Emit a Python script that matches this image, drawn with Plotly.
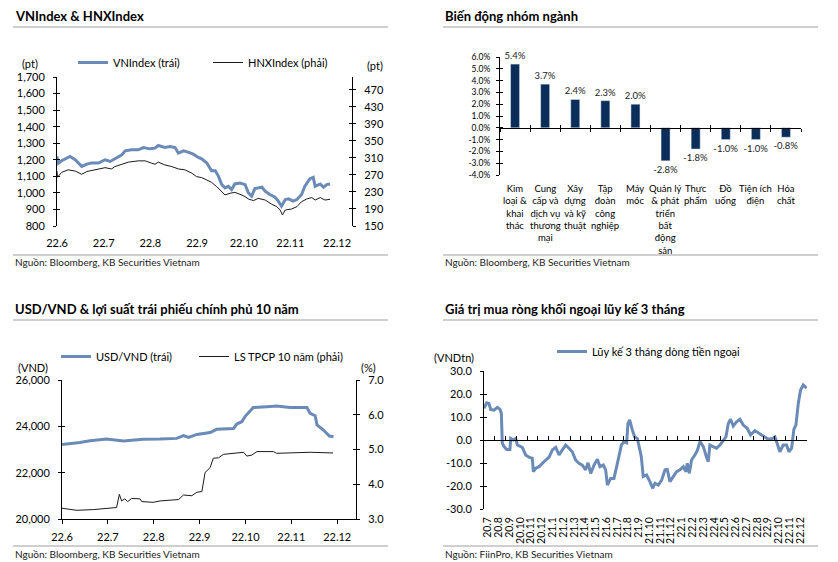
import plotly.graph_objects as go

W, H = 838, 562
FONT = "Lato, 'Open Sans', sans-serif"
BLUE = "#6A8BB7"
NAVY = "#0B2D59"
BLACK = "#1A1A1A"
GRAYRULE = "#BFBFBF"

# ---------------- Panel 1: VNIndex & HNXIndex ----------------
month_labels_22 = ["22.6", "22.7", "22.8", "22.9", "22.10", "22.11", "22.12"]
vn_x = [0, 0.03, 0.10, 0.28, 0.39, 0.53, 0.64, 0.74, 0.89, 1.03,
        1.14, 1.28, 1.39, 1.46, 1.60, 1.74, 1.85, 1.99, 2.10, 2.17,
        2.31, 2.42, 2.53, 2.60, 2.71, 2.81, 2.92, 3.03, 3.10, 3.21,
        3.31, 3.39, 3.46, 3.53, 3.60, 3.67, 3.74, 3.81, 3.92, 4.03,
        4.10, 4.17, 4.24, 4.39, 4.46, 4.56, 4.67, 4.74, 4.81, 4.89,
        4.96, 5.06, 5.14, 5.24, 5.31, 5.42, 5.49, 5.53, 5.64, 5.71,
        5.78, 5.85]
vn_y = [1220, 1180, 1194, 1220, 1200, 1160, 1174, 1180, 1180, 1200,
        1190, 1210, 1230, 1254, 1260, 1260, 1274, 1266, 1270, 1286,
        1274, 1280, 1274, 1240, 1254, 1246, 1234, 1214, 1206, 1180,
        1134, 1134, 1100, 1050, 1030, 1040, 1020, 1054, 1060, 1050,
        1000, 980, 1026, 1034, 1010, 990, 974, 950, 920, 960,
        964, 950, 960, 990, 1040, 1086, 1094, 1040, 1054, 1034,
        1050, 1054]
hnx_x = [0, 0.01, 0.10, 0.24, 0.39, 0.53, 0.64, 0.81, 1.03, 1.17,
         1.24, 1.39, 1.53, 1.74, 1.89, 2.03, 2.10, 2.17, 2.31, 2.46,
         2.60, 2.74, 2.89, 2.99, 3.10, 3.21, 3.31, 3.42, 3.53, 3.60,
         3.71, 3.81, 3.92, 4.03, 4.10, 4.21, 4.31, 4.46, 4.60, 4.71,
         4.78, 4.83, 4.89, 5.03, 5.14, 5.24, 5.35, 5.46, 5.53, 5.64,
         5.74, 5.85]
hnx_y = [279, 264.5, 276, 282, 279, 271.5, 278, 282, 287, 284,
         289.6, 295, 300, 303, 303, 297.5, 295, 300, 293.5, 289.6,
         284, 282, 274, 266, 263.7, 258, 252.7, 242.5, 229, 223,
         227, 229, 224.5, 219, 213.5, 209.5, 215, 211, 201, 195.5,
         187.6, 176, 187.6, 190, 195.5, 207, 213.5, 216.7, 211, 216.7,
         211, 212.7]
p1_left_ticks = [800, 900, 1000, 1100, 1200, 1300, 1400, 1500, 1600, 1700]
p1_right_ticks = [150, 190, 230, 270, 310, 350, 390, 430, 470]

# ---------------- Panel 2: sector performance ----------------
sectors = ["Kim<br>loại &<br>khai<br>thác",
           "Cung<br>cấp và<br>dịch vụ<br>thương<br>mại",
           "Xây<br>dựng<br>và kỹ<br>thuật",
           "Tập<br>đoàn<br>công<br>nghiệp",
           "Máy<br>móc",
           "Quản lý<br>& phát<br>triển<br>bất<br>động<br>sản",
           "Thực<br>phẩm",
           "Đồ<br>uống",
           "Tiện ích<br>điện",
           "Hóa<br>chất"]
sector_change = [5.4, 3.7, 2.4, 2.3, 2.0, -2.8, -1.8, -1.0, -1.0, -0.8]
p2_ticks = [-4, -3, -2, -1, 0, 1, 2, 3, 4, 5, 6]

# ---------------- Panel 3: USD/VND & 10y bond yield ----------------
usd_x = [0, 0.39, 0.61, 0.97, 1.34, 1.77, 2.14, 2.50, 2.65, 2.76,
         2.94, 3.23, 3.37, 3.74, 3.81, 3.92, 3.99, 4.10, 4.17, 4.47,
         4.68, 4.97, 5.34, 5.41, 5.52, 5.56, 5.70, 5.83, 5.92]
usd_y = [23220, 23300, 23380, 23450, 23370, 23440, 23450, 23480, 23600, 23520,
         23650, 23730, 23870, 23910, 24100, 24200, 24420, 24660, 24810, 24850,
         24880, 24810, 24810, 24560, 24460, 24060, 23840, 23580, 23550]
yld_x = [0, 0.32, 0.68, 1.19, 1.25, 1.30, 1.37, 1.43, 1.52, 1.70,
         1.74, 1.99, 2.14, 2.54, 2.65, 2.83, 2.94, 3.05, 3.12, 3.23,
         3.30, 3.41, 3.52, 3.74, 3.96, 4.03, 4.14, 4.25, 4.61, 4.68,
         5.05, 5.41, 5.91]
yld_y = [3.31, 3.25, 3.27, 3.33, 3.71, 3.52, 3.58, 3.50, 3.59, 3.58,
         3.50, 3.48, 3.52, 3.56, 3.69, 3.67, 3.77, 3.79, 4.34, 4.48,
         4.75, 4.76, 4.86, 4.89, 4.92, 4.81, 4.84, 4.94, 4.94, 4.89,
         4.90, 4.92, 4.90]
p3_left_ticks = [20000, 22000, 24000, 26000]
p3_right_ticks = [3, 4, 5, 6, 7]

# ---------------- Panel 4: foreign net buying (3M cumulative) ----------------
flow_months = ["20.7", "20.8", "20.9", "20.10", "20.11", "20.12",
               "21.1", "21.2", "21.3", "21.4", "21.5", "21.6", "21.7", "21.8",
               "21.9", "21.10", "21.11", "21.12", "22.1", "22.2", "22.3",
               "22.4", "22.5", "22.6", "22.7", "22.8", "22.9", "22.10",
               "22.11", "22.12"]
flow_x = [0, 0.25, 0.46, 0.62, 0.93, 1.24, 1.49, 1.61, 1.70, 1.86,
          2.11, 2.41, 2.48, 2.72, 2.94, 3.10, 3.56, 3.87, 4.18, 4.49,
          4.58, 4.80, 5.11, 5.42, 5.73, 6.04, 6.35, 6.66, 6.97, 7.28,
          7.59, 7.89, 8.20, 8.51, 8.82, 9.13, 9.44, 9.66, 9.91, 10.22,
          10.53, 10.77, 11.08, 11.30, 11.46, 11.76, 12.07, 12.32, 12.54, 12.76,
          13.00, 13.25, 13.37, 13.53, 13.78, 13.99, 14.24, 14.40, 14.61,
          14.79, 15.10, 15.41, 15.66, 15.88, 16.19, 16.50, 16.81, 17.02, 17.27,
          17.58, 17.89, 18.20, 18.51, 18.76, 18.88, 19.07, 19.28, 19.59, 19.81,
          20.06, 20.37, 20.67, 20.83, 20.98, 21.29, 21.60, 21.91, 22.22, 22.47,
          22.69, 22.90, 23.15, 23.46, 23.77, 24.08, 24.45, 24.76, 25.16, 25.56,
          25.94, 26.40, 26.80, 27.02, 27.24, 27.48, 27.79, 28.10, 28.32, 28.57,
          28.78, 28.97, 29.19, 29.40, 29.65, 29.96]
flow_y = [13.8, 16.2, 15.9, 13.3, 13.0, 14.2, 13.3, 11.6, -1.4, -2.9,
          -4.1, -4.1, 0.7, 0.0, 0.7, -2.2, -3.2, -6.5, -7.5, -8.0,
          -13.8, -12.3, -11.6, -9.9, -8.7, -7.5, -4.3, -3.2, -6.5, -4.3,
          -2.2, -3.6, -5.1, -8.7, -10.1, -10.9, -13.0, -9.9, -14.5, -10.9,
          -8.4, -11.6, -10.9, -13.0, -19.6, -16.7, -16.7, -11.6, -7.2, -2.2,
          -0.7, -1.2, 7.2, 8.7, 4.3, 1.4, 0.7, -2.9, -7.2,
          -15.9, -15.2, -18.1, -21.0, -18.8, -19.6, -17.4, -13.0, -12.8, -18.1,
          -15.9, -13.8, -13.0, -11.6, -13.8, -10.1, -14.5, -8.7, -6.5, -4.6,
          -0.7, -2.9, -7.5, -9.4, -2.2, -2.9, -3.6, -2.2, 0.0, 1.4,
          7.2, 9.0, 6.1, 7.9, 9.0, 6.5, 5.1, 2.2, 4.1, 3.0,
          1.7, 0.3, 0.7, 1.4, -1.4, -5.1, -2.2, -2.2, -5.1, -3.6,
          4.6, 6.5, 15.9, 21.7, 23.9, 22.5]
p4_ticks = [-30, -20, -10, 0, 10, 20, 30]


# ---------------- helpers (layout geometry only) ----------------
def fx(p):
    return p / W


def fy(p):
    return 1 - p / H


def yax(domain, rng, tickvals, ticktext, anchor, side="left", overlay=None,
        inside=False, size=11, standoff=6):
    d = dict(domain=domain, range=rng, tickvals=tickvals, anchor=anchor, side=side,
             showgrid=False, zeroline=False, fixedrange=True, automargin=False,
             tickfont=dict(family=FONT, size=size, color="#000"))
    if inside:
        d.update(ticks="inside", ticklen=3, tickcolor="#000", tickwidth=1,
                 showline=False, showticklabels=False)
    else:
        d.update(ticktext=ticktext, ticks="outside", ticklen=3, tickcolor="#000",
                 tickwidth=1, showline=True, linecolor="#000", linewidth=1,
                 ticklabelstandoff=standoff)
    if overlay:
        d["overlaying"] = overlay
    return d


fig = go.Figure()

# Panel 1 traces
fig.add_trace(go.Scatter(x=vn_x, y=vn_y, mode="lines", name="VNIndex (trái)",
                         line=dict(color=BLUE, width=3), xaxis="x", yaxis="y",
                         legend="legend"))
fig.add_trace(go.Scatter(x=hnx_x, y=hnx_y, mode="lines", name="HNXIndex (phải)",
                         line=dict(color=BLACK, width=1), xaxis="x", yaxis="y2",
                         legend="legend4"))
# Panel 2 bars
fig.add_trace(go.Bar(x=sectors, y=sector_change, marker_color=NAVY, width=0.3,
                     text=[f"{v:.1f}%" for v in sector_change], textposition="outside",
                     constraintext="none",
                     textfont=dict(family=FONT, size=9.5, color="#222"),
                     cliponaxis=False, showlegend=False, xaxis="x2", yaxis="y5"))
# Panel 3 traces
fig.add_trace(go.Scatter(x=usd_x, y=usd_y, mode="lines", name="USD/VND (trái)",
                         line=dict(color=BLUE, width=3), xaxis="x4", yaxis="y7",
                         legend="legend2"))
fig.add_trace(go.Scatter(x=yld_x, y=yld_y, mode="lines", name="LS TPCP 10 năm (phải)",
                         line=dict(color=BLACK, width=1), xaxis="x4", yaxis="y8",
                         legend="legend5"))
# Panel 4 trace
fig.add_trace(go.Scatter(x=flow_x, y=flow_y, mode="lines",
                         name="Lũy kế 3 tháng dòng tiền ngoại",
                         line=dict(color=BLUE, width=3), xaxis="x5", yaxis="y11",
                         legend="legend3"))
# empty helper traces so overlay tick axes are drawn
for xa, ya in [("x", "y3"), ("x", "y4"), ("x3", "y5"), ("x2", "y6"),
               ("x4", "y9"), ("x4", "y10"), ("x6", "y11"), ("x5", "y12")]:
    fig.add_trace(go.Scatter(x=[None], y=[None], mode="lines", xaxis=xa, yaxis=ya,
                             showlegend=False, hoverinfo="skip"))

# ----- geometry -----
p1_dom_x = [fx(57), fx(352)]
p1_dom_y = [fy(226), fy(77)]
p2_dom_x = [fx(500), fx(801)]
p2_dom_y = [fy(175), fy(57)]
p3_dom_x = [fx(62), fx(356)]
p3_dom_y = [fy(519), fy(380)]
p4_dom_x = [fx(484), fx(807)]
p4_dom_y = [fy(509), fy(371)]

p2_range = [-4, 6]
p2_zero = p2_dom_y[0] + (0 - p2_range[0]) / (p2_range[1] - p2_range[0]) * (p2_dom_y[1] - p2_dom_y[0])
p4_range = [-30, 30]
p4_zero = p4_dom_y[0] + (0 - p4_range[0]) / (p4_range[1] - p4_range[0]) * (p4_dom_y[1] - p4_dom_y[0])

month_pos = list(range(len(month_labels_22)))
flow_pos = list(range(len(flow_months)))

legend_common = dict(orientation="h", xanchor="left", yanchor="top",
                     font=dict(family=FONT, size=11, color="#000"), itemwidth=30,
                     bgcolor="rgba(0,0,0,0)", itemclick=False, itemdoubleclick=False)

layout = dict(
    width=W, height=H, margin=dict(l=0, r=0, t=0, b=0, pad=0, autoexpand=False),
    autosize=False,
    paper_bgcolor="white", plot_bgcolor="rgba(0,0,0,0)",
    font=dict(family=FONT, size=11, color="#000"),
    hovermode=False, bargap=0.7,
    # Panel 1
    xaxis=dict(domain=p1_dom_x, range=[0, 6.32], tickvals=month_pos,
               ticktext=month_labels_22, anchor="y", showline=False, ticks="",
               showgrid=False, zeroline=False, ticklabelstandoff=9, automargin=False,
               tickfont=dict(family=FONT, size=11, color="#000")),
    yaxis=yax(p1_dom_y, [800, 1700], p1_left_ticks,
              [f"{v:,}" for v in p1_left_ticks], "x"),
    yaxis2=yax(p1_dom_y, [150, 500], p1_right_ticks,
               [str(v) for v in p1_right_ticks], "x", side="right", overlay="y"),
    yaxis3=yax(p1_dom_y, [800, 1700], p1_left_ticks, None, "x", overlay="y", inside=True),
    yaxis4=yax(p1_dom_y, [150, 500], p1_right_ticks, None, "x", side="right",
               overlay="y", inside=True),
    # Panel 2
    xaxis2=dict(domain=p2_dom_x, type="category", range=[-0.5, len(sectors) - 0.5],
                anchor="free", position=p2_zero, showline=True, linecolor="#000",
                linewidth=1, ticks="outside", tickson="boundaries", ticklen=3,
                tickcolor="#000", showticklabels=False, showgrid=False, zeroline=False,
                automargin=False),
    xaxis3=dict(domain=p2_dom_x, range=[-0.5, len(sectors) - 0.5],
                tickvals=[i - 0.5 for i in range(len(sectors) + 1)],
                anchor="free", position=p2_zero, overlaying="x2", showline=False,
                ticks="inside", ticklen=3, tickcolor="#000", showticklabels=False,
                showgrid=False, zeroline=False, automargin=False),
    yaxis5=yax(p2_dom_y, p2_range, p2_ticks, [f"{v:.1f}%" for v in p2_ticks], "x2",
               size=8.5, standoff=4),
    yaxis6=yax(p2_dom_y, p2_range, p2_ticks, None, "x2", overlay="y5", inside=True),
    # Panel 3
    xaxis4=dict(domain=p3_dom_x, range=[0, 6.41], tickvals=month_pos,
                ticktext=month_labels_22, anchor="y7", showline=True, linecolor="#000",
                linewidth=1, ticks="outside", ticklen=4, tickcolor="#000",
                showgrid=False, zeroline=False, ticklabelstandoff=4, automargin=False,
                tickfont=dict(family=FONT, size=11, color="#000")),
    yaxis7=yax(p3_dom_y, [20000, 26000], p3_left_ticks,
               [f"{v:,}" for v in p3_left_ticks], "x4"),
    yaxis8=yax(p3_dom_y, [3, 7], p3_right_ticks, [f"{v:.1f}" for v in p3_right_ticks],
               "x4", side="right", overlay="y7"),
    yaxis9=yax(p3_dom_y, [20000, 26000], p3_left_ticks, None, "x4", overlay="y7",
               inside=True),
    yaxis10=yax(p3_dom_y, [3, 7], p3_right_ticks, None, "x4", side="right",
                overlay="y7", inside=True),
    # Panel 4
    xaxis5=dict(domain=p4_dom_x, range=[0, len(flow_months)], tickvals=flow_pos,
                ticktext=flow_months, tickangle=-90, anchor="y11", showline=False,
                ticks="", showgrid=False, zeroline=False, ticklabelstandoff=5,
                ticklabelshift=4, automargin=False,
                tickfont=dict(family=FONT, size=10.5, color="#000")),
    xaxis6=dict(domain=p4_dom_x, range=[0, len(flow_months)],
                tickvals=list(range(len(flow_months) + 1)), anchor="free",
                position=p4_zero, overlaying="x5", showline=True, linecolor="#000",
                linewidth=1, ticks="inside", ticklen=4, tickcolor="#000",
                showticklabels=False, showgrid=False, zeroline=False, automargin=False),
    yaxis11=yax(p4_dom_y, p4_range, p4_ticks, [f"{v:.1f}" for v in p4_ticks], "x5"),
    yaxis12=yax(p4_dom_y, p4_range, p4_ticks, None, "x5", overlay="y11", inside=True),
    legend=dict(legend_common, x=fx(73), y=fy(48)),
    legend4=dict(legend_common, x=fx(208), y=fy(48)),
    legend2=dict(legend_common, x=fx(56), y=fy(342)),
    legend5=dict(legend_common, x=fx(194), y=fy(342)),
    legend3=dict(legend_common, x=fx(552), y=fy(337)),
)
fig.update_layout(**layout)

# ----- text annotations -----
ann = []
titles = [("VNIndex & HNXIndex", 13, 16), ("Biến động nhóm ngành", 443, 16),
          ("USD/VND & lợi suất trái phiếu chính phủ 10 năm", 13, 309),
          ("Giá trị mua ròng khối ngoại lũy kế 3 tháng", 443, 309)]
for t, x, y in titles:
    ann.append(dict(text=f"<b>{t}</b>", x=fx(x), y=fy(y), xref="paper", yref="paper",
                    xanchor="left", yanchor="middle", showarrow=False,
                    font=dict(family=FONT, size=13, color="#000")))
sources = [("Nguồn: Bloomberg, KB Securities Vietnam", 13, 262),
           ("Nguồn: Bloomberg, KB Securities Vietnam", 443, 262),
           ("Nguồn: Bloomberg, KB Securities Vietnam", 13, 554),
           ("Nguồn: FiinPro, KB Securities Vietnam", 443, 554)]
for t, x, y in sources:
    ann.append(dict(text=t, x=fx(x), y=fy(y), xref="paper", yref="paper",
                    xanchor="left", yanchor="middle", showarrow=False,
                    font=dict(family=FONT, size=10, color="#222")))
units = [("(pt)", 30, 64), ("(pt)", 375, 66), ("(VND)", 33, 367), ("(%)", 368, 367),
         ("(VNDtn)", 454, 357)]
for t, x, y in units:
    ann.append(dict(text=t, x=fx(x), y=fy(y), xref="paper", yref="paper",
                    xanchor="center", yanchor="middle", showarrow=False,
                    font=dict(family=FONT, size=11, color="#000")))
for s in sectors:
    ann.append(dict(text=s, x=s, y=p2_range[0], xref="x2", yref="y5",
                    xanchor="center", yanchor="top", yshift=-6, showarrow=False,
                    align="center", font=dict(family=FONT, size=9.5, color="#000")))
fig.update_layout(annotations=ann)

# ----- rules under titles and above sources -----
shapes = []
for x0, x1, y in [(13, 388, 27), (443, 818, 27), (13, 388, 255), (443, 818, 255),
                  (13, 388, 320), (443, 818, 320), (13, 388, 546), (443, 818, 546)]:
    shapes.append(dict(type="line", xref="paper", yref="paper", x0=fx(x0), x1=fx(x1),
                       y0=fy(y), y1=fy(y), line=dict(color=GRAYRULE, width=1.5)))
fig.update_layout(shapes=shapes)

fig.write_html("out.html", config={"displayModeBar": False},
               post_script="document.body.style.margin='0px';")
